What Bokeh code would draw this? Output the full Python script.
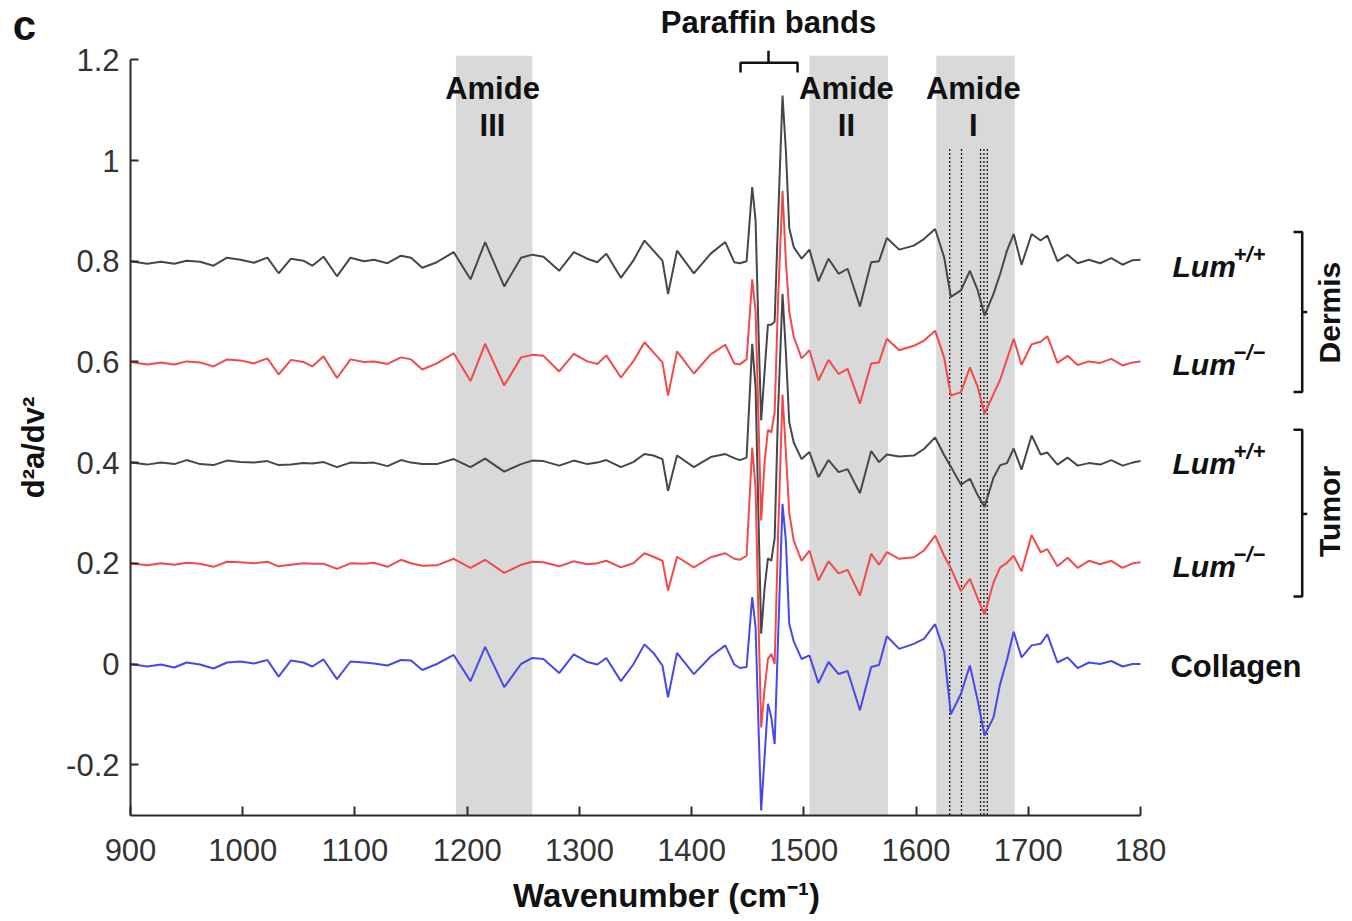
import math
from bokeh.plotting import figure
from bokeh.models import Range1d, FixedTicker, CustomJSTickFormatter
from bokeh.embed import file_html
from bokeh.resources import INLINE
from bokeh.core.properties import value

# ---------------- data ----------------
wavenumber = [
    900, 915, 927, 939, 950, 962, 974, 986, 998, 1010, 1022, 1032, 1043, 1054, 1062, 1072, 1084, 1096, 1108,
    1117, 1129, 1141, 1150, 1160, 1173, 1188, 1203, 1216, 1233, 1248, 1258, 1268, 1282, 1295, 1307, 1316, 1324, 1337,
    1348, 1358, 1366, 1374, 1379, 1387, 1402, 1417, 1430, 1438, 1443,
    1449, 1454, 1457, 1460, 1462, 1465, 1468, 1471, 1474, 1477, 1481, 1484, 1487, 1491, 1498,
    1505, 1513, 1522, 1531, 1539, 1550, 1560, 1567, 1574, 1585, 1598, 1607, 1617, 1625, 1631, 1640, 1648, 1655, 1661, 1669, 1675,
    1681, 1687, 1694, 1703, 1711, 1717, 1726, 1735, 1744, 1754, 1764, 1774, 1784, 1793, 1800,
]

dermis_wt = [
    0.800, 0.795, 0.799, 0.795, 0.801, 0.799, 0.791, 0.807, 0.803, 0.797, 0.807, 0.776, 0.805, 0.801, 0.791, 0.809, 0.770, 0.807, 0.800,
    0.803, 0.796, 0.811, 0.807, 0.787, 0.798, 0.818, 0.764, 0.838, 0.750, 0.807, 0.813, 0.809, 0.781, 0.818, 0.805, 0.798, 0.815, 0.767,
    0.801, 0.841, 0.821, 0.801, 0.735, 0.821, 0.776, 0.815, 0.838, 0.798, 0.796,
    0.800, 0.947, 0.881, 0.629, 0.484, 0.580, 0.674, 0.674, 0.680, 0.880, 1.129, 1.020, 0.866, 0.828, 0.805,
    0.823, 0.760, 0.805, 0.775, 0.785, 0.710, 0.798, 0.800, 0.846, 0.823, 0.831, 0.844, 0.864, 0.808, 0.729, 0.742, 0.781, 0.742, 0.692, 0.735, 0.775,
    0.821, 0.854, 0.793, 0.854, 0.841, 0.851, 0.800, 0.813, 0.796, 0.803, 0.796, 0.806, 0.793, 0.802, 0.803,
]

dermis_ko = [
    0.600, 0.595, 0.599, 0.595, 0.601, 0.599, 0.591, 0.605, 0.603, 0.597, 0.607, 0.575, 0.604, 0.600, 0.591, 0.611, 0.568, 0.605, 0.600,
    0.601, 0.596, 0.609, 0.605, 0.585, 0.597, 0.617, 0.562, 0.636, 0.553, 0.609, 0.614, 0.612, 0.581, 0.616, 0.601, 0.596, 0.613, 0.569,
    0.601, 0.639, 0.619, 0.599, 0.533, 0.621, 0.577, 0.615, 0.634, 0.597, 0.595,
    0.605, 0.764, 0.700, 0.450, 0.285, 0.400, 0.465, 0.460, 0.500, 0.720, 0.940, 0.800, 0.700, 0.650, 0.607,
    0.623, 0.563, 0.604, 0.576, 0.586, 0.517, 0.597, 0.599, 0.646, 0.623, 0.632, 0.642, 0.662, 0.609, 0.533, 0.540, 0.589, 0.550, 0.497, 0.536, 0.565,
    0.605, 0.646, 0.594, 0.635, 0.640, 0.651, 0.598, 0.612, 0.594, 0.601, 0.598, 0.606, 0.593, 0.599, 0.601,
]

tumor_wt = [
    0.400, 0.396, 0.400, 0.397, 0.405, 0.397, 0.395, 0.404, 0.401, 0.400, 0.403, 0.395, 0.396, 0.399, 0.398, 0.401, 0.391, 0.400, 0.399,
    0.400, 0.393, 0.405, 0.400, 0.397, 0.397, 0.407, 0.391, 0.408, 0.382, 0.397, 0.404, 0.403, 0.394, 0.404, 0.397, 0.400, 0.405, 0.391,
    0.401, 0.417, 0.414, 0.407, 0.344, 0.414, 0.391, 0.411, 0.417, 0.409, 0.405,
    0.410, 0.636, 0.550, 0.250, 0.060, 0.150, 0.210, 0.205, 0.250, 0.500, 0.735, 0.620, 0.480, 0.440, 0.407,
    0.421, 0.371, 0.405, 0.381, 0.387, 0.339, 0.423, 0.401, 0.416, 0.412, 0.414, 0.427, 0.450, 0.415, 0.392, 0.356, 0.368, 0.335, 0.312, 0.370, 0.395,
    0.399, 0.428, 0.386, 0.454, 0.416, 0.420, 0.396, 0.410, 0.394, 0.399, 0.396, 0.405, 0.394, 0.400, 0.403,
]

tumor_ko = [
    0.200, 0.196, 0.200, 0.197, 0.201, 0.199, 0.193, 0.203, 0.202, 0.200, 0.203, 0.194, 0.197, 0.200, 0.199, 0.199, 0.189, 0.200, 0.199,
    0.201, 0.193, 0.207, 0.200, 0.195, 0.196, 0.209, 0.191, 0.207, 0.181, 0.197, 0.203, 0.202, 0.194, 0.204, 0.198, 0.200, 0.205, 0.192,
    0.200, 0.220, 0.213, 0.205, 0.146, 0.213, 0.192, 0.212, 0.220, 0.209, 0.207,
    0.215, 0.430, 0.350, 0.050, -0.126, -0.050, 0.010, 0.020, 0.000, 0.250, 0.535, 0.420, 0.300, 0.245, 0.205,
    0.225, 0.166, 0.204, 0.180, 0.187, 0.136, 0.219, 0.197, 0.222, 0.209, 0.212, 0.225, 0.255, 0.215, 0.190, 0.145, 0.169, 0.130, 0.098, 0.162, 0.192,
    0.201, 0.215, 0.184, 0.256, 0.222, 0.228, 0.194, 0.211, 0.191, 0.205, 0.198, 0.205, 0.191, 0.200, 0.202,
]

collagen = [
    0.000, -0.005, -0.001, -0.007, 0.003, -0.001, -0.009, 0.003, 0.005, 0.001, 0.008, -0.025, 0.007, 0.003, -0.005, 0.009, -0.030, 0.005, 0.003,
    0.001, -0.003, 0.008, 0.007, -0.012, 0.000, 0.018, -0.034, 0.034, -0.046, 0.000, 0.012, 0.010, -0.018, 0.019, 0.004, -0.001, 0.012, -0.034,
    -0.001, 0.039, 0.022, -0.003, -0.066, 0.022, -0.020, 0.015, 0.037, -0.001, -0.008,
    -0.006, 0.133, 0.073, -0.152, -0.291, -0.185, -0.079, -0.106, -0.159, 0.047, 0.318, 0.245, 0.080, 0.045, 0.010,
    0.017, -0.038, 0.004, -0.020, -0.014, -0.092, -0.006, -0.002, 0.055, 0.030, 0.040, 0.050, 0.079, 0.025, -0.100, -0.059, -0.003, -0.073, -0.142, -0.106, -0.039,
    0.008, 0.064, 0.013, 0.037, 0.040, 0.059, 0.003, 0.013, -0.008, 0.003, 0.000, 0.006, -0.005, 0.000, 0.000,
]

x_ticks = [900, 1000, 1100, 1200, 1300, 1400, 1500, 1600, 1700, 1800]
x_tick_labels = ["900", "1000", "1100", "1200", "1300", "1400", "1500", "1600", "1700", "180"]
y_ticks = [-0.2, 0, 0.2, 0.4, 0.6, 0.8, 1, 1.2]
y_tick_labels = ["-0.2", "0", "0.2", "0.4", "0.6", "0.8", "1", "1.2"]

band_names = ["III", "II", "I"]
band_left = [1190, 1505, 1618]
band_right = [1258, 1575, 1688]
band_label_x = [1222.6, 1538, 1651]

dash_lines = [1630, 1640.5, 1657.5, 1660.5, 1663.5]

row_labels = ["+/+", "\u2212/\u2212", "+/+", "\u2212/\u2212"]
row_label_y = [0.789, 0.594, 0.398, 0.194]

# ---------------- figure ----------------
# The frame covers the whole canvas; axes are pinned at fixed data positions.
W, H = 1350, 919
PX_PER_WN = 1010 / 900.0
PX_PER_UNIT = 503.5
X0_PX, Y0_PX = 130.0, 663.5
x_lo = 900 - X0_PX / PX_PER_WN
x_hi = 900 + (W - X0_PX) / PX_PER_WN
y_hi = Y0_PX / PX_PER_UNIT
y_lo = (Y0_PX - H) / PX_PER_UNIT

p = figure(width=W, height=H, output_backend="svg", toolbar_location=None,
           x_range=Range1d(x_lo, x_hi), y_range=Range1d(y_lo, y_hi),
           min_border_left=0, min_border_right=0, min_border_top=0, min_border_bottom=0)
p.outline_line_color = None
p.grid.visible = False

FONT = "Liberation Sans"

for ax in (p.xaxis[0], p.yaxis[0]):
    ax.axis_line_width = 2
    ax.axis_line_color = "#2b2b2b"
    ax.major_tick_line_color = "#2b2b2b"
    ax.major_tick_line_width = 2
    ax.major_tick_out = 0
    ax.minor_tick_line_color = None
    ax.major_label_text_font = FONT
    ax.major_label_text_font_size = "31px"
    ax.major_label_text_color = "#333333"

xa = p.xaxis[0]
xa.fixed_location = -0.3
xa.bounds = (900, 1800)
xa.ticker = FixedTicker(ticks=x_ticks)
xa.formatter = CustomJSTickFormatter(args=dict(t=x_ticks, l=x_tick_labels),
                                     code="const i = t.indexOf(tick); return i >= 0 ? l[i] : '';")
xa.major_tick_in = 9
xa.major_label_standoff = 24

ya = p.yaxis[0]
ya.fixed_location = 900
ya.bounds = (-0.3, 1.2)
ya.ticker = FixedTicker(ticks=y_ticks)
ya.formatter = CustomJSTickFormatter(args=dict(t=y_ticks, l=y_tick_labels),
                                     code="const i = t.indexOf(tick); return i >= 0 ? l[i] : '';")
ya.major_tick_in = 8
ya.major_label_standoff = 11

# shaded amide bands
p.quad(left=band_left, right=band_right, bottom=-0.3, top=1.208, fill_color="#d9d9d9", line_color=None)

# dotted guides in amide I
p.segment(x0=dash_lines, y0=[-0.3] * len(dash_lines), x1=dash_lines, y1=[1.025] * len(dash_lines),
          line_color="#1a1a1a", line_width=1.3, line_dash="2 2")

# spectra
GRAY, RED, BLUE = "#474747", "#f24a4a", "#4848e8"
p.line(wavenumber, dermis_wt, line_color=GRAY, line_width=2)
p.line(wavenumber, dermis_ko, line_color=RED, line_width=2)
p.line(wavenumber, tumor_wt, line_color=GRAY, line_width=2)
p.line(wavenumber, tumor_ko, line_color=RED, line_width=2)
p.line(wavenumber, collagen, line_color=BLUE, line_width=2)

TXT = "#111111"


def txt(x, y, t, size, style="bold", align="center", angle=0.0, **kw):
    p.text(x=x, y=y, text=t, text_font=value(FONT), text_font_style=style, text_font_size=size,
           text_align=align, text_baseline="middle", text_color=TXT, angle=angle, **kw)


# band labels
txt(band_label_x, [1.143] * 3, ["Amide"] * 3, "31px")
txt(band_label_x, [1.070] * 3, band_names, "31px")

# paraffin bands label + bracket
txt([1468.5], [1.274], ["Paraffin bands"], "31px")
p.multi_line(xs=[[1443.6, 1443.6, 1494.4, 1494.4], [1468.5, 1468.5]],
             ys=[[1.175, 1.194, 1.194, 1.175], [1.194, 1.218]], line_color=TXT, line_width=2.5)

# row labels
lum_x = 1828.5
txt([lum_x] * 4, row_label_y, ["Lum"] * 4, "30px", style="bold italic", align="left")
txt([lum_x] * 4, row_label_y, row_labels, "22px", style="bold italic", align="left", x_offset=61, y_offset=-12)
txt([1826.7], [-0.005], ["Collagen"], "31px", align="left")

# group brackets
bx, bl, br = 1944.1, 1936.3, 1948.6
p.multi_line(xs=[[bl, bx, bx, bl], [bx, br], [bl, bx, bx, bl], [bx, br]],
             ys=[[0.858, 0.858, 0.540, 0.540], [0.699, 0.699], [0.465, 0.465, 0.134, 0.134], [0.298, 0.298]],
             line_color=TXT, line_width=2.5)
txt([1968.5, 1968.5], [0.698, 0.303], ["Dermis", "Tumor"], "30px", angle=math.pi / 2)

# panel letter and axis titles
txt([805.5], [1.268], ["c"], "42px")
txt([813.6], [0.430], ["d\u00b2a/dv\u00b2"], "31px", angle=math.pi / 2)
txt([1377.6], [-0.4598], ["Wavenumber (cm\u207b\u00b9)"], "33px")

open("out.html", "w").write(file_html(p, INLINE))
